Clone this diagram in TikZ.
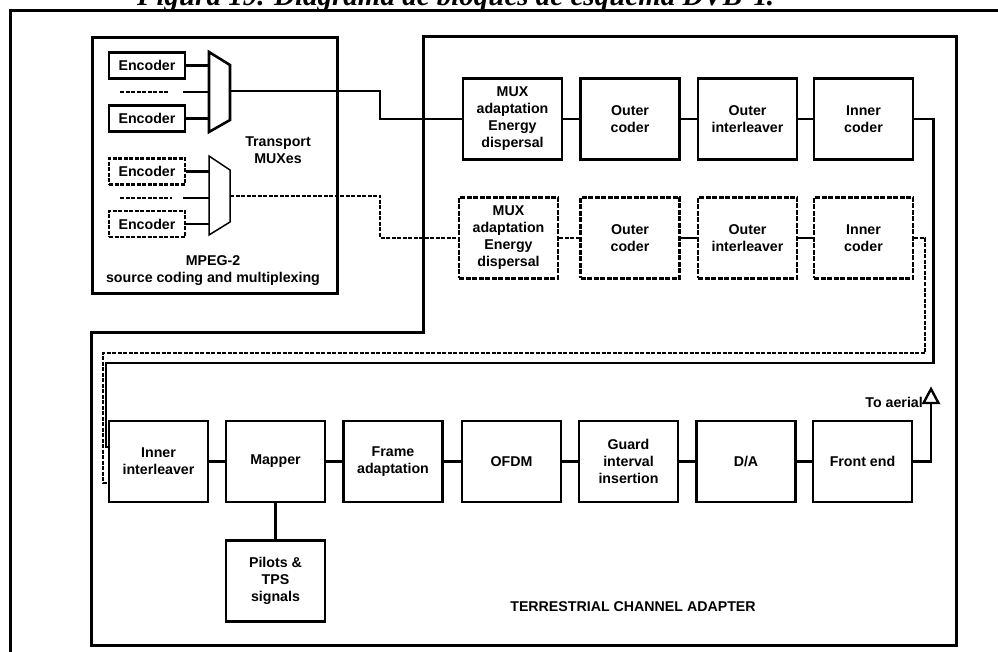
\documentclass[tikz,border=0pt]{standalone}
\usepackage{fontspec}
\setmainfont{Liberation Sans}
\newfontfamily\titlefont{Liberation Serif}
\newcommand\bxf{\fontsize{14.2}{17}\selectfont\bfseries}
\begin{document}
\begin{tikzpicture}[x=1pt,y=-1pt,
  blk/.style={draw, line width=2.8pt, minimum width=99pt, minimum height=81pt, align=center, inner sep=1pt, font=\bxf},
  blkd/.style={blk, line width=2.5pt, dash pattern=on 5pt off 1.5pt},
  enc/.style={draw, line width=2.5pt, minimum width=76pt, minimum height=26pt, inner sep=0pt, font=\bxf},
  encd/.style={enc, dash pattern=on 4pt off 1.5pt},
  conn/.style={line width=2.4pt},
  connd/.style={line width=2pt, dash pattern=on 4pt off 1.5pt},
  frm/.style={line width=3pt},
  lbl/.style={align=center, inner sep=0pt, font=\bxf}]
\useasboundingbox (0,0) rectangle (998,652);
\fill[white] (0,0) rectangle (998,652);
% title (cut off at the top, as in the reference)
\begin{scope}
\clip (0,0) rectangle (998,652);
\node[anchor=base west, inner sep=0pt, font=\titlefont\bfseries\itshape\fontsize{29}{30}\selectfont] (title) at (137,6) {Figura 19. Diagrama de bloques de esquema DVB-T.};
\end{scope}
% outer page frame
\draw[frm] (10,660) -- (10,11) -- (1005,11);
% MPEG-2 box
\node[draw, frm, minimum width=245pt, minimum height=255pt, inner sep=0pt] (mpeg) at (214.5,165.5) {};
% terrestrial channel adapter frame
\draw[frm] (423,37) -- (956,37) -- (956,645) -- (91,645) -- (91,332) -- (423,332) -- cycle;
% encoders
\node[enc] (e1) at (147,65.5) {Encoder};
\node[enc] (e2) at (147,118.5) {Encoder};
\node[encd] (e3) at (147,171.5) {Encoder};
\node[encd] (e4) at (147,224) {Encoder};
% MUX 1
\draw[line width=2.6pt, line join=miter] (209,52) -- (230,65) -- (230,120) -- (209,132) -- cycle;
\coordinate (m1a) at (209,65.5);
\coordinate (m1b) at (209,92);
\coordinate (m1c) at (209,118.5);
\coordinate (m1out) at (230,91);
\coordinate (d1a) at (120,92);
\coordinate (d1b) at (168,92);
\coordinate (d1c) at (183,92);
\draw[conn] (e1.east) -- (m1a);
\draw[conn] (e2.east) -- (m1c);
\draw[connd] (d1a) -- (d1b);
\draw[conn] (d1c) -- (m1b);
% MUX 2
\draw[line width=1.5pt, line join=miter] (209,156) -- (230,170) -- (230,222) -- (209,235) -- cycle;
\coordinate (m2a) at (209,171.5);
\coordinate (m2b) at (209,198);
\coordinate (m2c) at (209,224);
\coordinate (m2out) at (230,196);
\coordinate (d2a) at (120,198);
\coordinate (d2b) at (172,198);
\coordinate (d2c) at (183,198);
\draw[conn] (e3.east) -- (m2a);
\draw[conn] (e4.east) -- (m2c);
\draw[connd] (d2a) -- (d2b);
\draw[conn] (d2c) -- (m2b);
% labels in MPEG box
\node[lbl] (tm) at (278,150) {Transport\\MUXes};
\node[lbl] (ml) at (213,271) {MPEG-2\\source coding and multiplexing};
% top chain
\node[blk] (ma1) at (512.5,119) {MUX\\adaptation\\Energy\\dispersal};
\node[blk] (oc1) at (630,119) {Outer\\coder};
\node[blk] (oi1) at (747.5,119) {Outer\\interleaver};
\node[blk] (ic1) at (863.5,119) {Inner\\coder};
% second chain
\node[blkd] (ma2) at (508.5,238) {MUX\\adaptation\\Energy\\dispersal};
\node[blkd] (oc2) at (630,238) {Outer\\coder};
\node[blkd] (oi2) at (747.5,238) {Outer\\interleaver};
\node[blkd] (ic2) at (863.5,238) {Inner\\coder};
% lower chain
\node[blk] (ii) at (158.5,461.5) {Inner\\interleaver};
\node[blk] (mp) at (275.5,461.5) {Mapper};
\node[blk] (fa) at (393,461.5) {Frame\\adaptation};
\node[blk] (of) at (511.5,461.5) {OFDM};
\node[blk] (gi) at (628.5,461.5) {Guard\\interval\\insertion};
\node[blk] (da) at (746,461.5) {D/A};
\node[blk] (fe) at (862.5,461.5) {Front end};
\node[blk] (pt) at (275.5,581) {Pilots \&\\TPS\\signals};
% connectors
\draw[conn] (m1out) -- ++(150,0) |- (ma1.west);
\draw[connd] (m2out) -- ++(150,0) |- (ma2.west);
\draw[conn] (ma1) -- (oc1);
\draw[conn] (oc1) -- (oi1);
\draw[conn] (oi1) -- (ic1);
\draw[connd] (ma2) -- (oc2);
\draw[conn] (oc2) -- (oi2);
\draw[conn] (oi2) -- (ic2);
\draw[conn] (ic1.east) -- ++(19,0) |- (106,363) |- ([yshift=14.5pt]ii.west);
\draw[connd] (ic2.east) -- ++(11,0) |- (103,353) |- ([yshift=-21.5pt]ii.west);
\draw[conn] (ii) -- (mp);
\draw[conn] (mp) -- (fa);
\draw[conn] (fa) -- (of);
\draw[conn] (of) -- (gi);
\draw[conn] (gi) -- (da);
\draw[conn] (da) -- (fe);
\draw[conn] (mp) -- (pt);
% aerial
\coordinate (ant) at (931,403);
\draw[conn] (fe.east) -| (ant);
\draw[line width=2.4pt, line join=miter] (923.5,403) -- (931,389) -- (938.5,403) -- cycle;
\node[anchor=base east, inner sep=0pt, font=\bxf] (ta) at (923,407) {To aerial};
\node[lbl] (tca) at (633,607) {TERRESTRIAL CHANNEL ADAPTER};
\end{tikzpicture}
\end{document}
